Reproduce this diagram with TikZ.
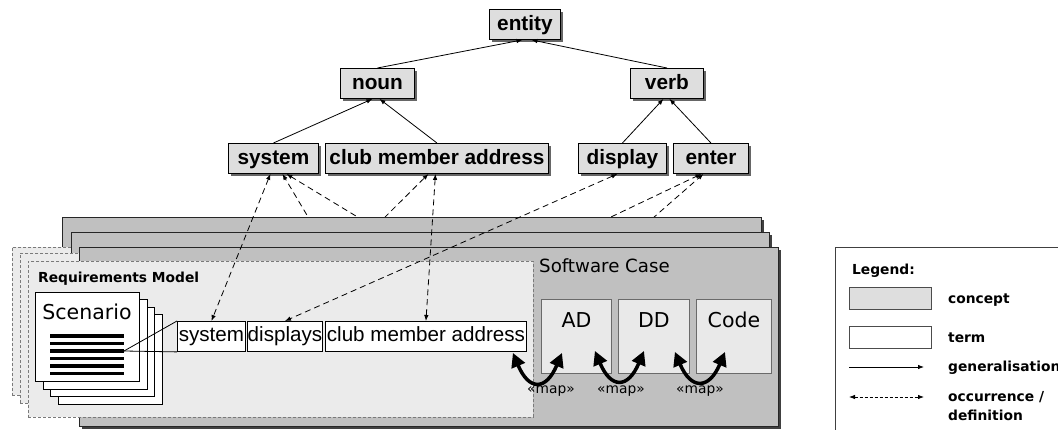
\documentclass[tikz,border=0pt]{standalone}
\usepackage{fontspec}
\setmainfont{Liberation Sans}
\newfontfamily\dvs{DejaVu Sans}
\usetikzlibrary{arrows.meta,shadows}
\definecolor{conceptfill}{HTML}{DEDEDE}
\definecolor{casefill}{HTML}{C0C0C0}
\definecolor{reqfill}{HTML}{EBEBEB}
\definecolor{artfill}{HTML}{E9E9E9}
\definecolor{reqline}{HTML}{7A7A7A}
\definecolor{artline}{HTML}{6A6A6A}
\begin{document}
\begin{tikzpicture}[x=1pt,y=-1pt,
  >={Latex[length=6pt,width=4.5pt]},
  concept/.style={draw=black, line width=0.9pt, fill=conceptfill, anchor=north west, inner sep=0pt,
    minimum height=30pt, font=\fontsize{20.8}{24}\selectfont\bfseries, text height=16pt, text depth=3pt,
    drop shadow={shadow xshift=2.5pt, shadow yshift=-2.5pt, fill=black!60, opacity=1}},
  term/.style={draw=black, line width=0.9pt, fill=white, anchor=north west, inner sep=0pt,
    minimum height=30pt, font=\fontsize{20.6}{24}\selectfont, text height=15pt, text depth=4pt},
  casebox/.style={draw=black!85, line width=0.9pt, fill=casefill, anchor=north west, inner sep=0pt,
    drop shadow={shadow xshift=2.5pt, shadow yshift=-2.5pt, fill=black!75, opacity=1}},
  reqbox/.style={draw=reqline, line width=0.9pt, dash pattern=on 3pt off 2pt, fill=reqfill,
    anchor=north west, inner sep=0pt},
  page/.style={draw=black, line width=0.9pt, fill=white, anchor=north west, inner sep=0pt,
    minimum width=104pt, minimum height=89pt},
  artefact/.style={draw=artline, line width=0.9pt, fill=artfill, anchor=north west, inner sep=0pt,
    minimum height=74pt},
  artlbl/.style={font=\dvs\fontsize{20.5}{24}\selectfont, inner sep=0pt, anchor=base},
  gen/.style={line width=0.8pt, ->},
  occ/.style={line width=0.8pt, dash pattern=on 6pt off 4pt},
  maparrow/.style={line width=3.5pt, >={Triangle[length=14pt,width=14pt]}, <->},
  maplbl/.style={font=\dvs\fontsize{13.8}{16}\selectfont, inner sep=0pt},
  legtxt/.style={font=\dvs\bfseries\fontsize{13.8}{16}\selectfont, inner sep=0pt, anchor=base west},
]
\useasboundingbox (0,0) rectangle (1058,430);
\clip (0,0) rectangle (1058,430);
\fill[white] (0,0) rectangle (1058,430);

% ---- concepts ----
\node[concept, minimum width=71pt] (ent) at (489,9) {entity};
\node[concept, minimum width=74pt] (noun) at (340,68) {noun};
\node[concept, minimum width=73pt] (verb) at (630,68) {verb};
\node[concept, minimum width=90pt] (csys) at (228,143) {system};
\node[concept, minimum width=223pt] (ccma) at (325,143) {club member address};
\node[concept, minimum width=88pt] (cdisp) at (578,143) {display};
\node[concept, minimum width=75pt] (center) at (673,143) {enter};

\draw[gen] (noun.north) -- ([xshift=-2.5pt]ent.south);
\draw[gen] (verb.north) -- ([xshift=6.5pt]ent.south);
\draw[gen] (csys.north) -- ([xshift=-5pt]noun.south);
\draw[gen] (ccma.north) -- ([xshift=2pt]noun.south);
\draw[gen] (cdisp.north) -- ([xshift=-3.5pt]verb.south);
\draw[gen] (center.north) -- ([xshift=2.5pt]verb.south);

% ---- occurrence lines hidden behind the software case stack ----
\coordinate (m1) at (317,232);
\coordinate (f1) at (407,247);
\coordinate (m2) at (370,232);
\coordinate (f2) at (548,247);
\coordinate (m3) at (637,232);
\draw[occ, ->] (m1) -- ([xshift=9pt]csys.south);
\draw[occ, ->] (f1) -- ([xshift=13pt]csys.south);
\draw[occ, ->] (m2) -- ([xshift=-8.5pt]ccma.south);
\draw[occ, ->] (f2) -- ([xshift=-9.5pt]center.south);
\draw[occ, ->] (m3) -- ([xshift=-7.5pt]center.south);

% ---- stacks ----
\node[casebox, minimum width=699pt, minimum height=178pt] (case3) at (62,217) {};
\node[reqbox, minimum width=503pt, minimum height=148pt] (req3) at (12,247) {};
\node[casebox, minimum width=698pt, minimum height=178pt] (case2) at (71,232) {};
\node[reqbox, minimum width=504pt, minimum height=150pt] (req2) at (20,253) {};
\node[casebox, minimum width=699pt, minimum height=179pt] (case1) at (79,247) {};
\node[reqbox, minimum width=505pt, minimum height=156pt] (req1) at (28,261) {};

\node[font=\dvs\fontsize{18.2}{22}\selectfont, inner sep=0pt, anchor=base west] (swc) at (539,272.7) {Software Case};
\node[artefact, minimum width=70pt] (ad) at (541,299) {};
\node[artefact, minimum width=71pt] (dd) at (618,299) {};
\node[artefact, minimum width=75pt] (code) at (696,299) {};
\node[artlbl] (adl) at ([shift={(0,28.7)}]ad.north) {AD};
\node[artlbl] (ddl) at ([shift={(0,28.7)}]dd.north) {DD};
\node[artlbl] (codel) at ([shift={(0,28.7)}]code.north) {Code};

\node[font=\dvs\bfseries\fontsize{13.8}{16}\selectfont, inner sep=0pt, anchor=base west] (rm) at (38,282.7) {Requirements Model};

% ---- scenario pages ----
\node[page] (p4) at (57.5,314.5) {};
\node[page] (p3) at (50,307) {};
\node[page] (p2) at (42.5,299.5) {};
\node[page] (p1) at (35,292) {};
\node[font=\dvs\fontsize{20.5}{24}\selectfont, inner sep=0pt, anchor=base] (scen) at (87,320) {Scenario};
\foreach \yy in {336,343.5,351,358.5,366,373.5}
  \draw[line width=3.5pt] (50,\yy) -- (124,\yy);
\coordinate (scl) at (124,351);

% ---- terms ----
\node[term, minimum width=68pt] (tsys) at (177,321) {system};
\node[term, minimum width=75pt] (tdisp) at (247,321) {displays};
\node[term, minimum width=201pt] (tcma) at (325,321) {club member address};
\draw[line width=0.8pt] (scl) -- (tsys.north west);
\draw[line width=0.8pt] (scl) -- (tsys.south west);

% ---- occurrence / definition links ----
\draw[occ, <->] ([xshift=-3pt]csys.south) -- (tsys.north);
\draw[occ, <->] ([xshift=-1.5pt]ccma.south) -- (tcma.north);
\draw[occ, <->] ([xshift=-5pt]cdisp.south) -- (tdisp.north);

% ---- map arrows ----
\draw[maparrow] ([shift={(-14,1)}]tcma.south east) .. controls +(16,38) and +(-16,38) .. ([shift={(21,-21)}]ad.south west);
\draw[maparrow] ([shift={(-17,-23)}]ad.south east) .. controls +(16,38) and +(-16,38) .. ([shift={(26,-23)}]dd.south west);
\draw[maparrow] ([shift={(-15,-22)}]dd.south east) .. controls +(16,38) and +(-16,38) .. ([shift={(29,-22)}]code.south west);
\node[maplbl] (map1) at (551,391) {«map»};
\node[maplbl] (map2) at (621,391) {«map»};
\node[maplbl] (map3) at (700,391) {«map»};

% ---- legend ----
\draw[line width=0.9pt, draw=black!75] (1062,247) -- (835,247) -- (835,432);
\node[legtxt] (lgh) at (852,274.7) {Legend:};
\node[draw=black!70, line width=0.9pt, fill=conceptfill, anchor=north west, minimum width=82pt, minimum height=22pt, inner sep=0pt] (lgc) at (849,287) {};
\node[legtxt] (lgct) at (948,304) {concept};
\node[draw=black!70, line width=0.9pt, fill=white, anchor=north west, minimum width=82pt, minimum height=22pt, inner sep=0pt] (lgt) at (849,326) {};
\node[legtxt] (lgtt) at (948,342.7) {term};
\coordinate (lga) at (849,367);
\coordinate (lgb) at (924,367);
\draw[line width=0.8pt, ->] (lga) -- (lgb);
\node[legtxt] (lggt) at (948,371.5) {generalisation};
\coordinate (lgc1) at (849,397);
\coordinate (lgc2) at (924,397);
\draw[line width=0.8pt, dash pattern=on 3pt off 2pt, <->] (lgc1) -- (lgc2);
\node[legtxt] (lgo1) at (948,401.5) {occurrence /};
\node[legtxt] (lgo2) at (948,420) {definition};
\end{tikzpicture}
\end{document}
